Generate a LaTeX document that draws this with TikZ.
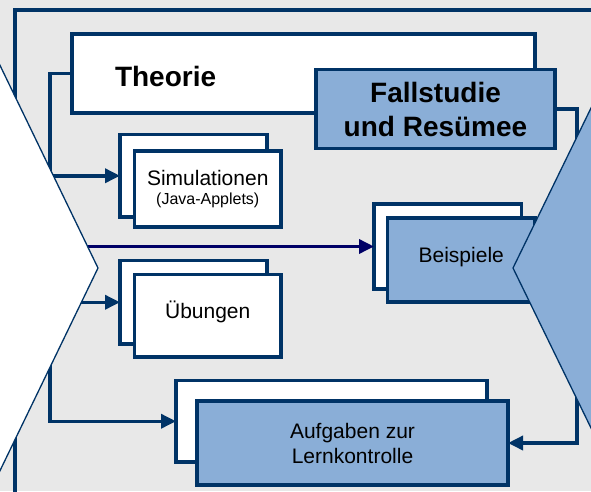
\documentclass[tikz,border=0pt]{standalone}
\usepackage{fontspec}
\setmainfont{Liberation Sans}
\usetikzlibrary{arrows.meta}
\definecolor{rahmen}{RGB}{0,51,102}
\definecolor{hellblau}{RGB}{138,174,215}
\definecolor{grau}{RGB}{232,232,232}
\definecolor{marine}{RGB}{0,0,102}
\newcommand{\groesse}[2]{\fontsize{#1}{#2}\selectfont}

\begin{document}
\begin{tikzpicture}[>={Triangle[length=15pt,width=14pt]}, x=1pt, y=-1pt]
      \tikzstyle{every node}=[font=\groesse{21}{25}]
      \tikzstyle{kasten}=[draw=rahmen, line width=3.5pt, fill=white, inner sep=0pt, outer sep=0pt]
      \tikzstyle{blaukasten}=[kasten, fill=hellblau]
      \tikzstyle{pfeil}=[draw=rahmen, line width=3.5pt, ->]
      %%
  \useasboundingbox (0,0) rectangle (591,491);
  \clip (0,0) rectangle (591,491);
  \fill [grau] (0,0) rectangle (591,491);
  \draw [rahmen, line width=3.3pt] (15,500) -- (15,10) -- (600,10);
  %%
  \node (theorie) at (303.5,73.5) [kasten, minimum width=463pt, minimum height=79pt, text width=377pt, text height=26pt, align=left, font=\groesse{28}{34}\bfseries] {Theorie};
  \node (fall) at (435.5,109) [blaukasten, minimum width=239pt, minimum height=79pt, align=center, font=\groesse{28}{34}\bfseries] {Fallstudie\\und Resümee};
  \node (simback) at (193.5,175.75) [kasten, minimum width=147pt, minimum height=82.5pt] {};
  \node (simfront) at (207.75,189) [kasten, minimum width=146.5pt, minimum height=76pt, align=center, font=\groesse{21}{19}] {Simulationen\\{\groesse{16}{19}(Java-Applets)}};
  \node (ubback) at (193.5,302.25) [kasten, minimum width=147pt, minimum height=83.5pt] {};
  \node (ubfront) at (207.75,315.75) [kasten, minimum width=146.5pt, minimum height=82.5pt, text depth=13pt] {Übungen};
  \node (beiback) at (447.75,246.5) [kasten, minimum width=147.5pt, minimum height=85pt] {};
  \node (beifront) at (461.25,260) [blaukasten, minimum width=147.5pt, minimum height=84pt, text depth=9.5pt] {Beispiele};
  \node (aufback) at (331.5,421.25) [kasten, minimum width=311pt, minimum height=81.5pt] {};
  \node (auffront) at (352.5,443) [blaukasten, minimum width=311pt, minimum height=84pt, align=center] {Aufgaben zur\\Lernkontrolle};
  \coordinate (hub) at (50,268);
  %%
  \draw [pfeil] (theorie.west) -- ++(-22,0) |- (simback.west);
  \draw [pfeil] (hub |- ubback.west) -- (ubback.west);
  \draw [pfeil] (hub) |- (aufback.west);
  \draw [pfeil, draw=marine, fill=marine] (hub |- beiback.west) -- (beiback.west);
  \draw [pfeil] (fall.east) -- ++(22,0) |- (auffront.east);
  %%
  \draw [rahmen, fill=white, line width=1.3pt] (-20,24) -- (98,268) -- (-20,512) -- cycle;
  \draw [rahmen, fill=hellblau, line width=1.3pt] (611,67) -- (513,268) -- (611,469) -- cycle;
%
\end{tikzpicture}
\end{document}
